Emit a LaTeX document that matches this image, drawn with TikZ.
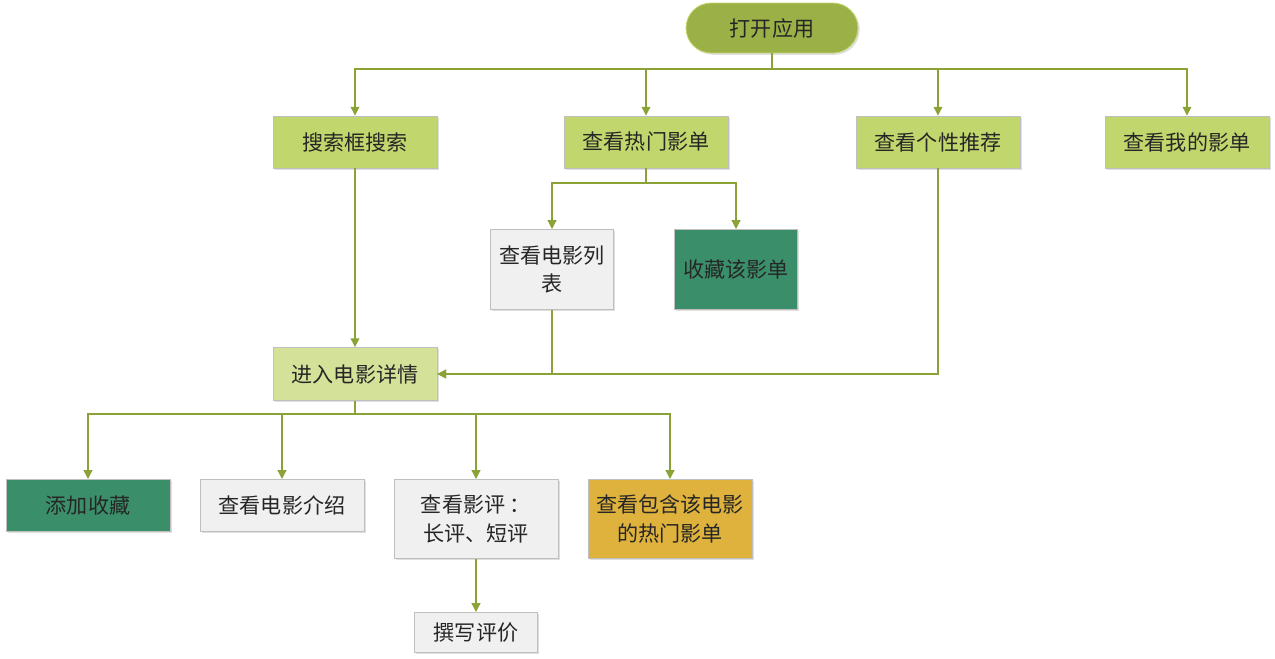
\documentclass[tikz,border=0pt]{standalone}
\usepackage{fontspec}
\setmainfont{Noto Sans CJK SC}
\definecolor{oliva}{RGB}{138, 162, 54}
\definecolor{olivainicio}{RGB}{155, 176, 70}
\definecolor{verdeclaro}{RGB}{193, 214, 108}
\definecolor{verdepalido}{RGB}{212, 225, 152}
\definecolor{verdeoscuro}{RGB}{58, 143, 106}
\definecolor{gris}{RGB}{240, 240, 240}
\definecolor{dorado}{RGB}{222, 178, 60}
\definecolor{texto}{RGB}{38, 38, 38}
\usepackage{tikz}
\usetikzlibrary{arrows.meta}
\usetikzlibrary{positioning, shadows}
\usetikzlibrary{calc}

\begin{document}
\begin{tikzpicture}[x=0.02cm, y=-0.02cm,
    caja/.style={draw=black!25, line width=0.5pt, text=texto, font=\fontsize{12}{16}\selectfont, align=center, inner sep=2pt,
        drop shadow={opacity=0.25, shadow xshift=1pt, shadow yshift=-1pt}},
    verde/.style={caja, fill=verdeclaro, minimum width=3.28cm, minimum height=1.04cm},
    flecha/.style={oliva, line width=0.7pt, -{Triangle[width=5pt, length=5pt]}},
    linea/.style={oliva, line width=0.7pt}]
    \useasboundingbox (0,0) rectangle (1275,659);

    % Start node
    \node[caja, draw=verdeclaro, fill=olivainicio, rounded corners=0.5cm, minimum width=3.44cm, minimum height=1.0cm] (inicio) at (772,28) {打开应用};

    % First level
    \node[verde] (buscar) at (355,142) {搜索框搜索};
    \node[verde] (populares) at (646,142) {查看热门影单};
    \node[verde] (recomendar) at (938,142) {查看个性推荐};
    \node[verde] (mias) at (1187,142) {查看我的影单};

    % Hot list options
    \node[caja, fill=gris, minimum width=2.46cm, minimum height=1.6cm, anchor=north] (lista) at (552,229) {查看电影列\\表};
    \node[caja, fill=verdeoscuro, minimum width=2.46cm, minimum height=1.6cm, anchor=north] (coleccion) at (736,229) {收藏该影单};

    % Movie details
    \node[caja, fill=verdepalido, minimum width=3.28cm, minimum height=1.06cm] (detalle) at (355,374) {进入电影详情};

    % Detail options
    \node[caja, fill=verdeoscuro, minimum width=3.28cm, minimum height=1.04cm, anchor=north] (favorito) at (88,479) {添加收藏};
    \node[caja, fill=gris, minimum width=3.28cm, minimum height=1.04cm, anchor=north] (intro) at (282,479) {查看电影介绍};
    \node[caja, fill=gris, minimum width=3.28cm, minimum height=1.58cm, anchor=north] (resena) at (476,479) {查看影评 ：\\长评、短评};
    \node[caja, fill=dorado, minimum width=3.28cm, minimum height=1.58cm, anchor=north] (contiene) at (670,479) {查看包含该电影\\的热门影单};
    \node[caja, fill=gris, minimum width=2.46cm, minimum height=0.8cm, anchor=north] (escribir) at (476,612) {撰写评价};

    % Connectors from start
    \coordinate (bus1) at (772,69);
    \draw[linea] (inicio) -- (bus1);
    \draw[flecha] (bus1) -| (buscar);
    \draw[flecha] (bus1) -| (populares);
    \draw[flecha] (bus1) -| (recomendar);
    \draw[flecha] (bus1) -| (mias);

    % Connectors from hot list
    \coordinate (bus2) at (646,183);
    \draw[linea] (populares) -- (bus2);
    \draw[flecha] (bus2) -| (lista);
    \draw[flecha] (bus2) -| (coleccion);

    % Into movie details
    \draw[flecha] (buscar) -- (detalle);
    \draw[flecha] (lista) |- (detalle);
    \draw[flecha] (recomendar) |- (detalle);

    % Connectors from details
    \coordinate (bus3) at (355,414);
    \draw[linea] (detalle) -- (bus3);
    \draw[flecha] (bus3) -| (favorito);
    \draw[flecha] (bus3) -| (intro);
    \draw[flecha] (bus3) -| (resena);
    \draw[flecha] (bus3) -| (contiene);
    \draw[flecha] (resena) -- (escribir);
\end{tikzpicture}
\end{document}
